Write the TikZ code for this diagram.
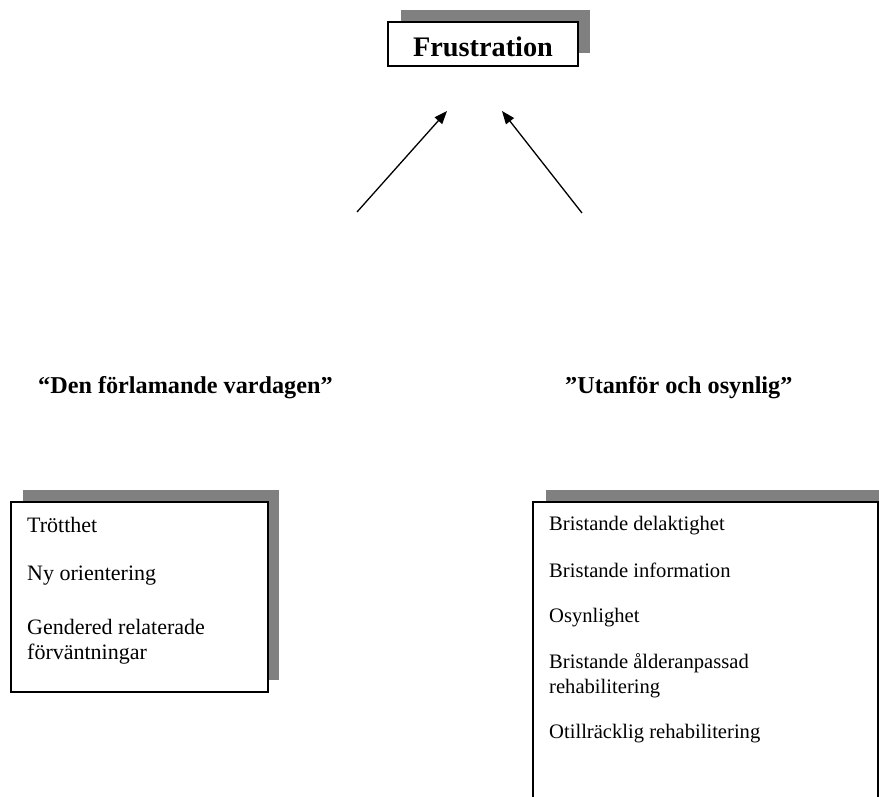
\documentclass[tikz,border=0pt]{standalone}
\usepackage{fontspec}
\setmainfont{Liberation Serif}
\usetikzlibrary{arrows.meta}
\tikzset{
  shadowbox/.style={fill=shadowgray, draw=none, inner sep=0pt, outer sep=0pt, anchor=north west},
  frontbox/.style={fill=white, draw=black, line width=1.2pt, inner sep=0pt, outer sep=0pt, anchor=north west},
  itemtext/.style={anchor=base west, inner sep=0pt, font=\fontsize{22}{25}\selectfont},
  itemtextb/.style={anchor=base west, inner sep=0pt, font=\fontsize{20.6}{24}\selectfont},
  titletext/.style={anchor=base west, inner sep=0pt, font=\fontsize{24.2}{28}\selectfont\bfseries},
  arrowline/.style={line width=1.3pt, -{Triangle[length=13pt,width=10pt]}}
}
\definecolor{shadowgray}{HTML}{808080}
\begin{document}
\begin{tikzpicture}[x=1pt,y=-1pt]
\useasboundingbox (0,0) rectangle (879,797);
\clip (0,0) rectangle (879,797);
% Frustration box
\node[shadowbox, minimum width=189pt, minimum height=43pt] (fsh) at (401,10) {};
\node[frontbox, minimum width=190pt, minimum height=44pt] (fbox) at (388,22) {};
\node[anchor=base, inner sep=0pt, font=\fontsize{28.3}{32}\selectfont\bfseries] (ftext) at (483,57) {Frustration};
% arrows
\coordinate (la) at (357,212);
\coordinate (lt) at (447,111);
\coordinate (ra) at (582,213);
\coordinate (rt) at (502,111);
\draw[arrowline] (la) -- (lt);
\draw[arrowline] (ra) -- (rt);
% titles
\node[titletext] (ltitle) at (38,393) {“Den förlamande vardagen”};
\node[titletext] (rtitle) at (565,393) {”Utanför och osynlig”};
% left box
\node[shadowbox, minimum width=256pt, minimum height=190pt] (lsh) at (23,490) {};
\node[frontbox, minimum width=257pt, minimum height=190pt] (lbox) at (11,502) {};
\node[itemtext] (l1) at (27,532) {Trötthet};
\node[itemtext] (l2) at (27,580) {Ny orientering};
\node[itemtext] (l3) at (27,634) {Gendered relaterade};
\node[itemtext] (l4) at (27,659) {förväntningar};
% right box
\node[shadowbox, minimum width=350pt, minimum height=330pt] (rsh) at (546,490) {};
\node[frontbox, minimum width=345pt, minimum height=330pt] (rbox) at (533,502) {};
\node[itemtextb] (r1) at (549,530) {Bristande delaktighet};
\node[itemtextb] (r2) at (549,577) {Bristande information};
\node[itemtextb] (r3) at (549,622) {Osynlighet};
\node[itemtextb] (r4) at (549,668) {Bristande ålderanpassad};
\node[itemtextb] (r5) at (549,693) {rehabilitering};
\node[itemtextb] (r6) at (549,738) {Otillräcklig rehabilitering};
\end{tikzpicture}
\end{document}
